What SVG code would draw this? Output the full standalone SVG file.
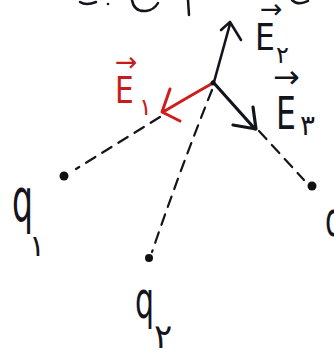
<svg xmlns="http://www.w3.org/2000/svg" width="334" height="360" viewBox="0 0 334 360">
<style>
.ink{stroke:#14141c;fill:none;stroke-linecap:round;stroke-linejoin:round}
.red{stroke:#d01c1c;fill:none;stroke-linecap:round;stroke-linejoin:round}
.dash{stroke:#14141c;stroke-width:2.2;fill:none;stroke-dasharray:11 8;stroke-linecap:round}
.t{font-family:"DejaVu Sans","Liberation Sans",sans-serif;fill:#14141c}
.tr{font-family:"DejaVu Sans","Liberation Sans",sans-serif;fill:#c81c1c}
.dot{fill:#111}
</style>
<rect width="334" height="360" fill="#ffffff"/>
<g id="top-fragments" class="ink" stroke-width="2.5">
<path d="M80 2 Q86 6 96 2"/>
<circle cx="108" cy="4" r="1.3" fill="#14141c" stroke="none"/>
<path d="M132 0 Q134 12 146 11 Q154 10 158 3"/>
<path d="M188 0 L189 15"/>
<path d="M292 0 Q298 6 308 1"/>
</g>
<g id="connectors">
<path class="dash" d="M160 117 L76 169"/>
<path class="dash" d="M212 90 Q180 170 152 252"/>
<path class="dash" d="M259 131 L304 180"/>
<path class="ink" stroke-width="2.6" d="M214 82 L230 24 M221 30 L230 22 L241 40"/>
<path class="red" stroke-width="3" d="M213 83 Q190 96 163 112 M170 89 L162 112 L180 121"/>
<path class="ink" stroke-width="3.2" d="M213 82 L255 129 M233 125 L256 129 L253 107"/>
<circle cx="213" cy="83" r="2.5" class="dot"/>
</g>
<g id="q1">
<circle cx="64" cy="176" r="4.5" class="dot"/>
<text class="t" font-size="46" transform="translate(12,221) scale(0.72,1.3)">q</text>
<text class="t" x="29" y="256" font-size="30">۱</text>
</g>
<g id="q2">
<circle cx="149" cy="258" r="4" class="dot"/>
<text class="t" font-size="40" transform="translate(135,318) scale(0.75,1.3)">q</text>
<text class="t" x="154" y="348" font-size="34">۲</text>
</g>
<g id="q3">
<circle cx="312" cy="186" r="4.5" class="dot"/>
<text class="t" font-size="40" transform="translate(325,236) scale(0.75,1.2)">q</text>
</g>
<g id="E2">
<text class="t" x="260" y="18" font-size="27">→</text>
<text class="t" font-size="37" transform="translate(255,50) scale(0.85,1)">E</text>
<text class="t" x="276" y="63" font-size="24">۲</text>
</g>
<g id="E1">
<text class="tr" x="115" y="71" font-size="27">→</text>
<text class="tr" font-size="38" transform="translate(115,103) scale(0.78,1)">E</text>
<text class="tr" x="139" y="115" font-size="24">۱</text>
</g>
<g id="E3">
<text class="t" x="273" y="88" font-size="32">→</text>
<text class="t" font-size="42" transform="translate(276,129) scale(0.75,1.05)">E</text>
<text class="t" x="300" y="135" font-size="28">۳</text>
</g>
</svg>
